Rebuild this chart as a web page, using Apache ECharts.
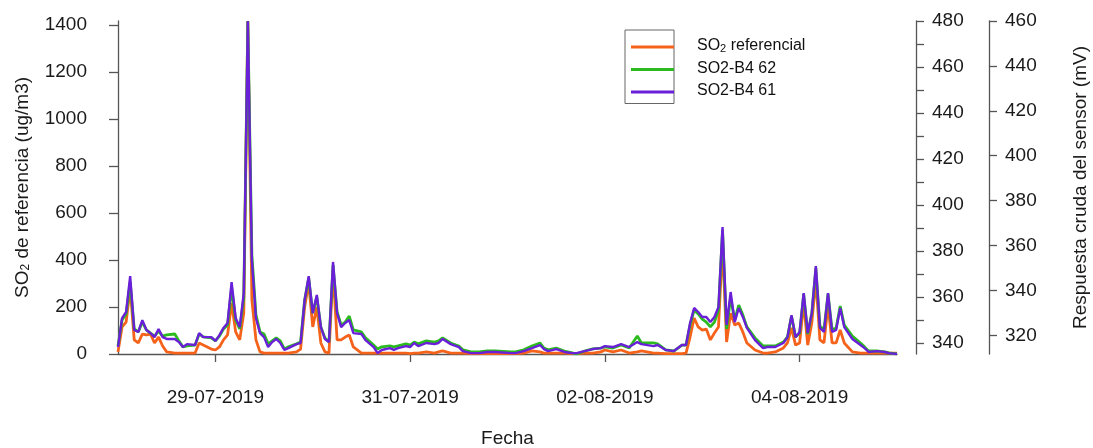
<!DOCTYPE html>
<html>
<head>
<meta charset="utf-8">
<title>SO2</title>
<script src="https://cdn.jsdelivr.net/npm/echarts@6/dist/echarts.min.js"></script>
<style>
  html, body { margin: 0; padding: 0; background: #fff; }
  #main { width: 1093px; height: 448px; }
</style>
</head>
<body>
<div id="main"></div>
<script>
// hours since 28-07-2019 00:00
const hours = [
  0, 1, 2, 3, 4, 5, 6, 7, 8, 9,
  10, 11, 12, 14, 15, 16, 17, 19, 20, 21,
  23, 24, 25, 26, 27, 28, 29, 30, 31, 32,
  33, 34, 35, 36, 37, 38, 39, 40, 41, 42,
  44, 45, 46, 47, 48, 49, 50, 51, 52, 53,
  54, 55, 56, 57, 58, 60, 61, 63, 64, 65,
  67, 68, 69, 71, 72, 73, 74, 76, 78, 79,
  80, 82, 84, 85, 87, 89, 91, 93, 97, 98,
  100, 102, 104, 105, 106, 108, 110, 112, 113, 115,
  117, 119, 120, 122, 124, 126, 128, 129, 132, 133,
  135, 137, 139, 140, 141, 142, 143, 144, 145, 146,
  147, 148, 149, 150, 151, 152, 153, 154, 155, 157,
  159, 160, 162, 164, 165, 166, 167, 168, 169, 170,
  171, 172, 173, 174, 175, 176, 177, 178, 179, 181,
  183, 184, 185, 187, 189, 190, 192
]

// SO2 referencial (ug/m3)
const so2Ref = [
  9, 115, 136, 281, 60, 47, 85, 81, 85, 47,
  72, 34, 9, 4, 4, 4, 4, 4, 47, 38,
  21, 17, 30, 60, 81, 217, 94, 60, 174, 1415,
  230, 60, 9, 4, 4, 4, 4, 4, 4, 4,
  9, 21, 200, 302, 115, 200, 47, 9, 4, 357,
  60, 60, 72, 81, 30, 4, 4, 4, 4, 4,
  4, 4, 4, 4, 2, 4, 4, 9, 4, 9,
  13, 4, 4, 4, 2, 2, 2, 2, 2, 2,
  4, 13, 9, 4, 4, 4, 4, 2, 2, 4,
  4, 9, 17, 9, 17, 4, 9, 13, 4, 4,
  2, 2, 2, 4, 72, 153, 115, 102, 106, 60,
  89, 115, 464, 51, 174, 123, 132, 94, 47, 17,
  4, 4, 9, 26, 47, 111, 38, 47, 217, 38,
  132, 315, 60, 47, 208, 47, 47, 102, 47, 9,
  4, 4, 4, 4, 4, 4, 4
]

// SO2-B4 62 (mV)
const b4n62 = [
  338.7, 350, 352.6, 366.5, 346.1, 344.8, 349.1, 345.7, 344.3, 343,
  345.2, 343, 343.5, 343.9, 340.9, 338.3, 338.7, 339.1, 343.9, 342.6,
  342.2, 340.9, 343, 346.1, 347.8, 363.9, 350, 346.1, 359.6, 480,
  378.3, 352.2, 344.8, 343.9, 339.6, 340.9, 342.2, 340.9, 337.4, 338.3,
  339.6, 340.4, 358.7, 368.3, 353, 360, 347, 342.2, 340.4, 373.9,
  353.5, 347.8, 349.1, 351.7, 345.7, 344.8, 342.2, 339.1, 337.4, 338.3,
  338.7, 338.3, 338.7, 339.6, 339.1, 340.4, 339.6, 340.9, 340.4, 340.9,
  342.2, 340, 338.7, 337, 336.1, 336.1, 336.5, 336.5, 336.1, 336.1,
  337, 338.7, 340, 337.8, 337, 337.8, 336.5, 335.7, 335.2, 336.5,
  337.4, 337.8, 338.3, 337.8, 339.1, 337.8, 343, 340, 340, 339.6,
  337, 336.5, 339.1, 339.1, 347.8, 354.3, 352.6, 350.4, 349.1, 347,
  349.1, 354.3, 389.1, 346.1, 359.6, 350, 356.5, 352.2, 347, 342.2,
  338.7, 338.7, 338.7, 340.4, 342.6, 351.7, 342.6, 344.3, 361.3, 343.9,
  353, 372.6, 347.4, 345.7, 361.3, 345.7, 346.5, 356.1, 347.8, 343,
  340, 338.3, 336.5, 336.5, 336.1, 335.7, 335.2
]

// SO2-B4 61 (mV)
const b4n61 = [
  314.8, 327.7, 330.4, 346.4, 322.4, 321.5, 326.8, 322.4, 321, 319.2,
  322.8, 319.2, 318.4, 318.4, 317, 314.8, 316.1, 315.7, 321, 319.2,
  319.2, 317.5, 320.1, 323.3, 325.5, 343.7, 327.7, 323.7, 338.8, 460,
  353.5, 327.7, 321, 319.2, 314.8, 317, 318.4, 316.6, 313.5, 314.3,
  316.1, 316.6, 335.7, 346.4, 329.9, 338, 323.7, 318.4, 317, 352.7,
  329.9, 323.7, 325.5, 326.8, 321, 320.6, 317.9, 314.8, 312.1, 313.5,
  314.3, 313.5, 314.3, 315.2, 314.8, 316.6, 315.2, 316.6, 316.1, 316.6,
  318.4, 316.1, 314.8, 313, 312.1, 312.1, 312.6, 312.6, 312.1, 312.1,
  313, 314.3, 315.7, 313.9, 313, 313.9, 312.6, 312.1, 312.1, 313,
  313.9, 314.3, 315.2, 314.8, 316.1, 314.8, 317, 316.1, 315.2, 315.7,
  313.5, 313, 315.7, 315.7, 325.5, 332.2, 330.4, 328.2, 328.2, 325.9,
  328.2, 332.6, 368.2, 324.6, 339.3, 325.9, 332.2, 328.2, 323.3, 317.9,
  314.3, 314.8, 314.8, 316.6, 319.2, 329, 319.2, 321.5, 338.8, 321,
  329.9, 350.9, 323.3, 321.5, 338.8, 321.5, 322.4, 332.2, 323.7, 318.4,
  315.7, 314.3, 312.6, 313, 312.6, 312.1, 311.7
]

const tickHours = [24, 72, 120, 168]
const tickLabels = ['29-07-2019', '31-07-2019', '02-08-2019', '04-08-2019']
const leftTicks = [0, 200, 400, 600, 800, 1000, 1200, 1400]
const right1Labels = [340, 360, 380, 400, 420, 440, 460, 480]
const right1Ticks = [340, 350, 360, 370, 380, 390, 400, 410, 420, 430, 440, 450, 460, 470, 480]
const right2Labels = [320, 340, 360, 380, 400, 420, 440, 460]

const seriesNames = ['SO2 referencial', 'SO2-B4 62', 'SO2-B4 61']
const colors = ['#f5621a', '#2bbb1f', '#6a1fd8']

const pairs = (vals) => hours.map((h, i) => [h, vals[i]])

const axisGrey = '#555'
const labelStyle = { color: '#1a1a1a', fontSize: 19, fontFamily: 'Liberation Sans', formatter: (v) => String(v) }
const lineIcon = 'path://M0,0 L43,0 L43,3 L0,3 Z'

const myChart = echarts.init(document.getElementById('main'))
const option = {
  animation: false,
  textStyle: { fontFamily: 'Liberation Sans' },
  grid: { left: 118, right: 196, top: 21, bottom: 94, containLabel: false, outerBoundsMode: 'none' },
  legend: [
    {
      orient: 'vertical', left: 625, top: 30,
      data: seriesNames,
      icon: lineIcon, itemWidth: 43, itemHeight: 14, itemGap: 14,
      formatter: () => '',
      borderColor: '#666', borderWidth: 1,
      padding: [10, 0, 10, 6],
    },
    {
      orient: 'vertical', left: 692, top: 31,
      data: seriesNames,
      icon: lineIcon, itemWidth: 0, itemHeight: 14, itemGap: 6,
      padding: [7, 0, 7, 0],
      formatter: (name) => name === 'SO2 referencial' ? 'SO{sub|2} referencial' : name,
      textStyle: {
        fontSize: 16, color: '#111',
        rich: { sub: { fontSize: 11, padding: [6, 0, 0, 0] } },
      },
    },
  ],
  xAxis: {
    type: 'value', min: 0, max: 192,
    offset: 19,
    name: 'Fecha', nameLocation: 'middle', nameGap: 56, nameMoveOverlap: false,
    nameTextStyle: { fontSize: 19, color: '#1a1a1a' },
    axisLine: { lineStyle: { color: axisGrey, width: 1.3 } },
    axisTick: { customValues: tickHours, length: 8, lineStyle: { color: axisGrey, width: 1.3 } },
    axisLabel: {
      customValues: tickHours, margin: 15, ...labelStyle,
      formatter: (v) => tickLabels[tickHours.indexOf(v)] || '',
    },
    splitLine: { show: false },
  },
  yAxis: [
    {
      type: 'value', min: 0, max: 1417, position: 'left', offset: 14,
      name: 'SO{sub|2} de referencia (ug/m3)', nameLocation: 'middle', nameGap: 72, nameRotate: 90,
      nameMoveOverlap: false,
      nameTextStyle: { fontSize: 19, color: '#1a1a1a', rich: { sub: { fontSize: 12, padding: [7, 0, 0, 0] } } },
      axisLine: { show: true, lineStyle: { color: axisGrey, width: 1.3 } },
      axisTick: { show: true, customValues: leftTicks, length: 9, lineStyle: { color: axisGrey, width: 1.3 } },
      axisLabel: { customValues: leftTicks, margin: 17, ...labelStyle },
      splitLine: { show: false },
    },
    {
      type: 'value', min: 335.2, max: 480, position: 'right', offset: 19,
      axisLine: { show: true, lineStyle: { color: axisGrey, width: 1.3 } },
      axisTick: { show: true, customValues: right1Ticks, length: 8, lineStyle: { color: axisGrey, width: 1.3 } },
      axisLabel: { customValues: right1Labels, margin: 16, ...labelStyle },
      splitLine: { show: false },
    },
    {
      type: 'value', min: 311.7, max: 460, position: 'right', offset: 92,
      name: 'Respuesta cruda del sensor (mV)', nameLocation: 'middle', nameGap: 82, nameRotate: 90,
      nameMoveOverlap: false,
      nameTextStyle: { fontSize: 19, color: '#1a1a1a' },
      axisLine: { show: true, lineStyle: { color: axisGrey, width: 1.3 } },
      axisTick: { show: true, customValues: right2Labels, length: 8, lineStyle: { color: axisGrey, width: 1.3 } },
      axisLabel: { customValues: right2Labels, margin: 16, ...labelStyle },
      splitLine: { show: false },
    },
  ],
  series: [
    {
      name: seriesNames[0], type: 'line', yAxisIndex: 0,
      symbol: 'none', color: colors[0],
      lineStyle: { width: 2.8, color: colors[0] },
      data: pairs(so2Ref),
    },
    {
      name: seriesNames[1], type: 'line', yAxisIndex: 1,
      symbol: 'none', color: colors[1],
      lineStyle: { width: 2.8, color: colors[1] },
      data: pairs(b4n62),
    },
    {
      name: seriesNames[2], type: 'line', yAxisIndex: 2,
      symbol: 'none', color: colors[2],
      lineStyle: { width: 2.4, color: colors[2] },
      data: pairs(b4n61),
    },
  ],
}
myChart.setOption(option)
</script>
</body>
</html>
